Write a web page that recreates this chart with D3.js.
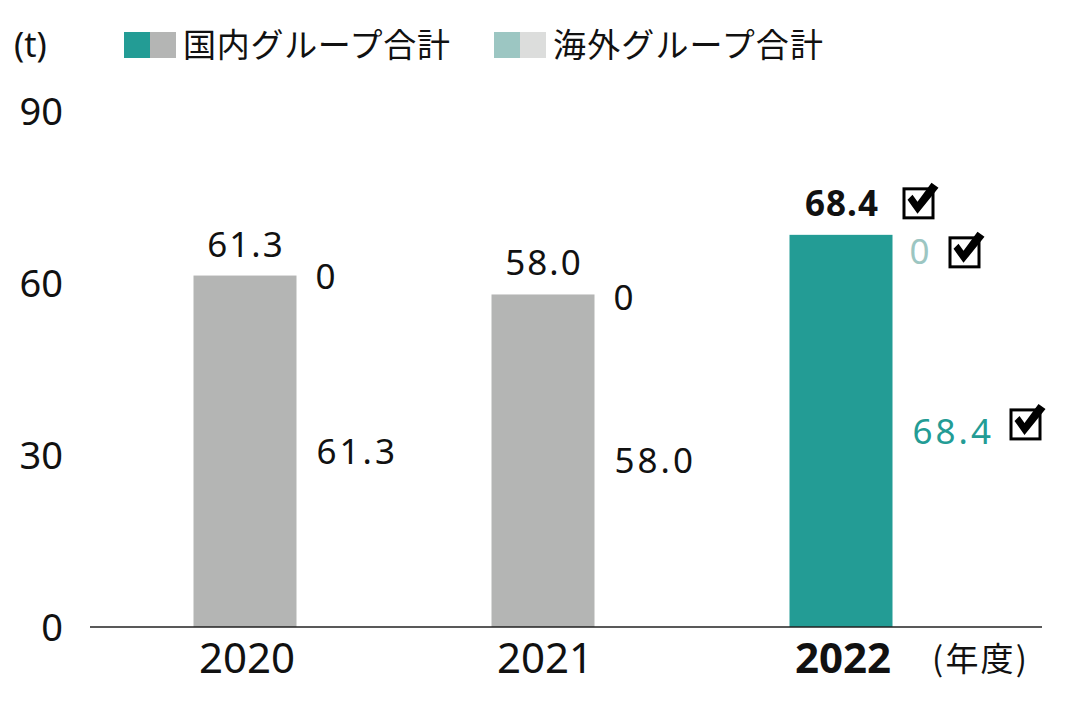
<!DOCTYPE html>
<html>
<head>
<meta charset="utf-8">
<script src="https://cdn.jsdelivr.net/npm/d3@7"></script>
<style>
  html, body { margin: 0; padding: 0; background: #fff; }
  svg { display: block; font-family: "Noto Sans", "Noto Sans CJK JP", sans-serif; }
</style>
</head>
<body>
<svg id="chart" width="1068" height="702"></svg>
<script>
// data
const years    = ['2020', '2021', '2022'];
const domestic = [61.3, 58.0, 68.4];
const overseas = [0, 0, 0];
const yTicks   = [0, 30, 60, 90];
const legendLabels = ['国内グループ合計', '海外グループ合計'];
const highlight = '2022';

const TEAL = '#239c95', GRAY = '#b4b5b4', LTEAL = '#9cc6c2', LGRAY = '#dcdddc';
const CJK = '"Noto Sans CJK JP", sans-serif';

const svg = d3.select('#chart');

const x = d3.scalePoint().domain(years).range([245, 841]);
const y = d3.scaleLinear().domain([0, 90]).range([627, 111]);
const barW = 103;

// y axis labels
const yAxis = svg.append('g')
  .attr('transform', 'translate(63,0)')
  .call(d3.axisLeft(y).tickValues(yTicks).tickSize(0).tickPadding(0));
yAxis.select('.domain').remove();
yAxis.selectAll('text')
  .attr('font-size', 38).attr('fill', '#111')
  .attr('font-family', '"Noto Sans", sans-serif')
  .attr('dy', '0.36em');

// bars
svg.append('g').selectAll('rect').data(years).enter().append('rect')
  .attr('x', d => x(d) - barW / 2)
  .attr('y', (d, i) => y(domestic[i]))
  .attr('width', barW)
  .attr('height', (d, i) => y(0) - y(domestic[i]))
  .attr('fill', d => d === highlight ? TEAL : GRAY);

// baseline
svg.append('line')
  .attr('x1', 90).attr('x2', 1042)
  .attr('y1', y(0)).attr('y2', y(0))
  .attr('stroke', '#222').attr('stroke-width', 1.5);

// x axis labels
svg.append('g').selectAll('text').data(years).enter().append('text')
  .attr('x', d => x(d) + 2).attr('y', 673)
  .attr('text-anchor', 'middle')
  .attr('font-size', 42)
  .attr('font-weight', d => d === highlight ? 700 : 400)
  .attr('fill', '#111')
  .text(d => d);
svg.append('text').attr('x', 932).attr('y', 671)
  .attr('font-family', CJK)
  .attr('font-size', 33).attr('fill', '#111').text('(年度)')
  .attr('textLength', 95);

// checkbox
function checkbox(cx, cy) {
  const g = svg.append('g').attr('transform', `translate(${cx},${cy})`);
  g.append('rect').attr('x', 1.5).attr('y', 5).attr('width', 29).attr('height', 29)
    .attr('fill', 'none').attr('stroke', '#000').attr('stroke-width', 3);
  g.append('path')
    .attr('d', 'M5,16 L10,11 L15,18 L29,-1 L36,4 L15,30 Z')
    .attr('fill', '#000');
}

// value labels
const topOff = [1, 3, 17];
years.forEach((yr, i) => {
  const hi = yr === highlight;
  const cx = x(yr), right = cx + barW / 2;
  // total above bar
  svg.append('text')
    .attr('x', cx + 1).attr('y', y(domestic[i]) - 19)
    .attr('text-anchor', 'middle')
    .attr('font-size', 35).attr('font-weight', hi ? 700 : 400)
    .attr('letter-spacing', hi ? 1 : 2)
    .attr('fill', '#111')
    .text(domestic[i].toFixed(1));
  // overseas value near top
  svg.append('text')
    .attr('x', right + (hi ? 17 : 19)).attr('y', y(domestic[i]) + topOff[i])
    .attr('dy', '0.36em')
    .attr('font-size', 35)
    .attr('fill', hi ? LTEAL : '#111')
    .text(overseas[i]);
  // domestic value in middle
  svg.append('text')
    .attr('x', right + 20).attr('y', (y(0) + y(domestic[i])) / 2)
    .attr('dy', '0.36em')
    .attr('font-size', 35).attr('letter-spacing', 3)
    .attr('fill', hi ? TEAL : '#111')
    .text(domestic[i].toFixed(1));
  if (hi) {
    checkbox(right + 10, y(domestic[i]) - 51);
    checkbox(right + 56, y(domestic[i]) - 2);
    checkbox(right + 117, (y(0) + y(domestic[i])) / 2 - 26);
  }
});

// unit + legend
svg.append('text').attr('x', 14).attr('y', 57)
  .attr('font-size', 34).attr('fill', '#111').text('(t)');
const legend = [
  { x: 124, c1: TEAL, c2: GRAY, label: legendLabels[0], w: 267 },
  { x: 494, c1: LTEAL, c2: LGRAY, label: legendLabels[1], w: 270 }
];
legend.forEach(l => {
  svg.append('rect').attr('x', l.x).attr('y', 32).attr('width', 26).attr('height', 26).attr('fill', l.c1);
  svg.append('rect').attr('x', l.x + 26).attr('y', 32).attr('width', 26).attr('height', 26).attr('fill', l.c2);
  svg.append('text').attr('x', l.x + 59).attr('y', 57)
    .attr('font-family', CJK)
    .attr('font-size', 33).attr('fill', '#111')
    .attr('textLength', l.w)
    .text(l.label);
});
</script>
</body>
</html>
